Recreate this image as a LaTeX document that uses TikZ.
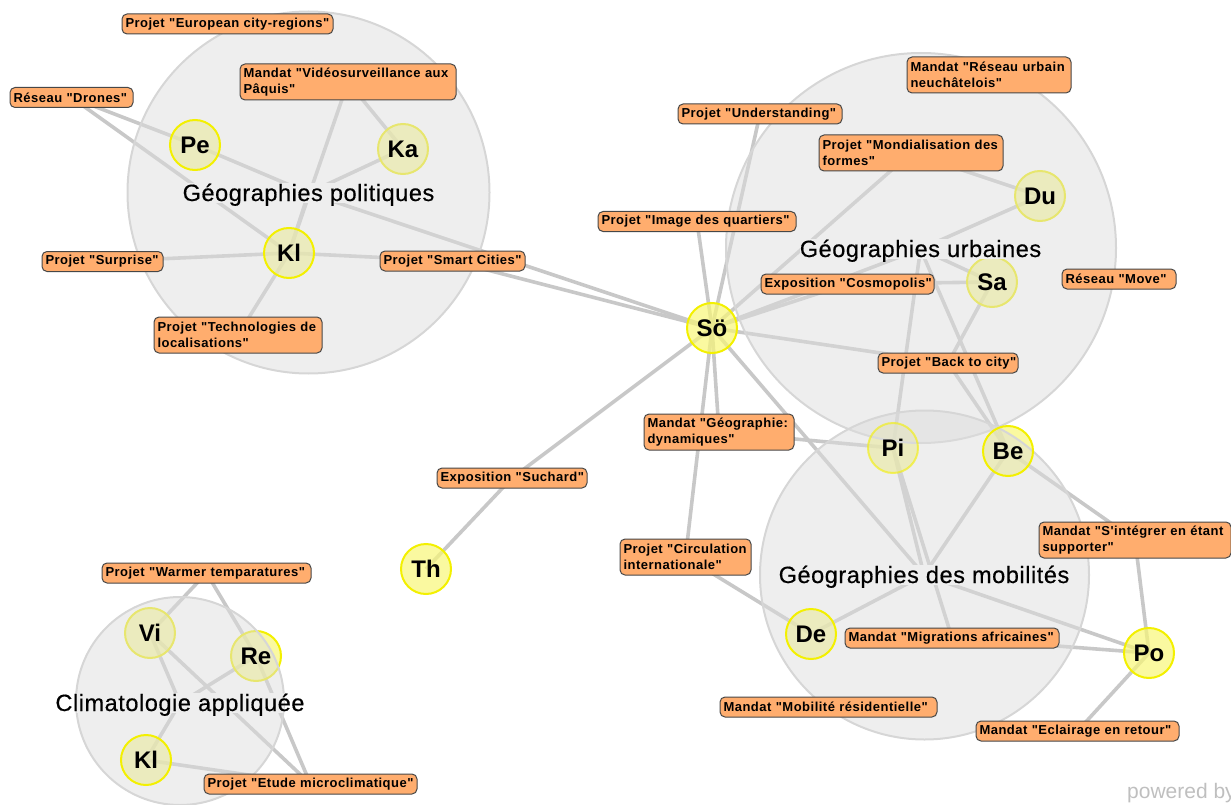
\documentclass[tikz,border=0pt]{standalone}
\usepackage{fontspec}
\setmainfont{Liberation Sans}
\newfontfamily\labfont[LetterSpace=3.8]{Liberation Sans Bold}
\newfontfamily\perfont{Liberation Sans Bold}
\newfontfamily\hubfont[LetterSpace=2.4,FakeBold=0.5]{Liberation Sans}
\pgfdeclarelayer{low}\pgfdeclarelayer{high}\pgfdeclarelayer{edges}\pgfdeclarelayer{hulls}
\pgfsetlayers{edges,low,hulls,high,main}
\definecolor{edgec}{HTML}{C8C8C8}
\definecolor{orangec}{HTML}{FFAD6E}
\definecolor{yelc}{HTML}{F8F677}
\definecolor{yelb}{HTML}{F3F000}
\definecolor{hullc}{HTML}{EEEEEE}
\definecolor{hullf}{HTML}{DDDDDD}
\definecolor{hullb}{HTML}{D6D6D6}
\tikzset{
  lab/.style n args={2}{draw=black!72,line width=1pt,fill=orangec,rounded corners=5pt,minimum width=#1pt,minimum height=#2pt,text width=#1pt-7pt,inner xsep=3.5pt,inner ysep=0pt,align=left,font=\labfont\fontsize{13}{16.5}\selectfont,text=black},
  person/.style={inner sep=0pt,minimum size=50pt,circle,font=\perfont\fontsize{24}{24}\selectfont,text=black},
  discfill/.style={fill=yelc,fill opacity=0.7},
  discline/.style={draw=yelb,draw opacity=#1,line width=2pt},
  hull/.style={circle,inner sep=0pt,draw=hullb,line width=2pt,fill=hullf,fill opacity=0.5,minimum size=#1pt},
  hublabel/.style={inner sep=0pt,text height=14pt,text depth=6pt,font=\hubfont\fontsize{23.5}{24}\selectfont,text=black},
  link/.style={draw=edgec,line width=3.6pt},
  x=1pt,y=-1pt
}
\newcommand{\hl}[1]{\raisebox{-4pt}[0pt][0pt]{#1}}
\newcommand{\ml}[2]{\raisebox{-1pt}{\mbox{#1}}\\\raisebox{-1pt}{\mbox{#2}}}
\newcommand{\sml}[1]{\raisebox{-2pt}{\mbox{#1}}}
\newcommand{\conn}[2]{\begin{pgfonlayer}{edges}\foreach \b in {#2}{\draw[link] (#1.center) -- (\b.center);}\end{pgfonlayer}}
\begin{document}
\begin{tikzpicture}
\useasboundingbox (0,0) rectangle (1231,805);
\clip (0,0) rectangle (1231,805);
% persons
\foreach \n/\t/\px/\py/\lay/\op in {pe/Pe/195/145/high/1,ka/Ka/403/149/low/1,kl/Kl/289/253/high/1,so/Sö/712/328/high/1,du/Du/1040/196/low/1,sa/Sa/992/282/low/1,pi/Pi/893/448/high/0.6,be/Be/1008/451/high/1,de/De/811/634/high/1,po/Po/1149/653/high/1,th/Th/426/569/high/1,vi/Vi/150/633/low/1,re/Re/256/656/low/1,klb/Kl/146/760/high/1}{
  \node[person] (\n) at (\px,\py) {\t};
  \begin{pgfonlayer}{low}\path[discfill] (\px,\py) circle (25);\end{pgfonlayer}
  \begin{pgfonlayer}{\lay}\path[discline=\op] (\px,\py) circle (25);\end{pgfonlayer}
}
% hull labels
\node[hublabel] (hpol) at (308.5,193) {\hl{Géographies politiques}};
\node[hublabel] (hurb) at (920.5,249) {\hl{Géographies urbaines}};
\node[hublabel] (hmob) at (924,575) {\hl{Géographies des mobilités}};
\node[hublabel] (hcli) at (180,703) {\hl{Climatologie appliquée}};
% hulls
\begin{pgfonlayer}{hulls}
\foreach \n/\h/\cx/\cy/\d in {gpol/hpol/308.5/192.5/362,gurb/hurb/921/248/390,gmob/hmob/924.5/575/329,gcli/hcli/180/701/208}{
  \node[hull=\d] (\n) at (\cx,\cy) {};
  \begin{scope}
    \clip (\cx,\cy) circle ({\d/2});
    \fill[hullc] (\h.south west) rectangle (\h.north east);
  \end{scope}
}
\end{pgfonlayer}
% labels
\node[lab={211}{20}] (european) at (227.5,24) {\sml{Projet "European city-regions"}};
\node[lab={216}{36}] (video) at (348,82) {\ml{Mandat "Vidéosurveillance aux}{Pâquis"}};
\node[lab={123}{20}] (drones) at (71.5,97.5) {\sml{Réseau "Drones"}};
\node[lab={121}{20}] (surprise) at (102.5,261.5) {\sml{Projet "Surprise"}};
\node[lab={145}{20}] (smart) at (452.5,261) {\sml{Projet "Smart Cities"}};
\node[lab={168}{36}] (tech) at (238,335) {\ml{Projet "Technologies de}{localisations"}};
\node[lab={164}{20}] (under) at (760,114) {\sml{Projet "Understanding"}};
\node[lab={164}{36}] (runeu) at (989,75) {\ml{Mandat "Réseau urbain}{neuchâtelois"}};
\node[lab={184}{36}] (mondial) at (911,153) {\ml{Projet "Mondialisation des}{formes"}};
\node[lab={198}{20}] (image) at (697,221.5) {\sml{Projet "Image des quartiers"}};
\node[lab={173}{20}] (cosmo) at (847.5,284) {\sml{Exposition "Cosmopolis"}};
\node[lab={114}{20}] (move) at (1119,279) {\sml{Réseau "Move"}};
\node[lab={140}{20}] (back) at (948,363) {\sml{Projet "Back to city"}};
\node[lab={150}{36}] (geodyn) at (719,432) {\ml{Mandat "Géographie:}{dynamiques"}};
\node[lab={150}{20}] (suchard) at (512,478) {\sml{Exposition "Suchard"}};
\node[lab={131}{36}] (circ) at (685.5,557) {\ml{Projet "Circulation}{internationale"}};
\node[lab={192}{36}] (integ) at (1135,540) {\ml{Mandat "S'intégrer en étant}{supporter"}};
\node[lab={214}{20}] (migr) at (952,638) {\sml{Mandat "Migrations africaines"}};
\node[lab={217}{20}] (mobres) at (828.5,707) {\sml{Mandat "Mobilité résidentielle"}};
\node[lab={203}{20}] (eclair) at (1077.5,731) {\sml{Mandat "Eclairage en retour"}};
\node[lab={209}{20}] (warmer) at (206.5,573) {\sml{Projet "Warmer temparatures"}};
\node[lab={213}{20}] (etude) at (310.5,784) {\sml{Projet "Etude microclimatique"}};
\node[anchor=west,inner sep=0pt,text=black!25,font=\fontsize{21}{21}\selectfont] (powered) at (1127,793) {powered by};
% connectors
\conn{drones}{pe,kl}
\conn{pe}{hpol}
\conn{ka}{hpol,video}
\conn{kl}{hpol,video,surprise,smart,tech}
\conn{so}{hpol,smart,under,image,mondial,cosmo,hurb,back,geodyn,circ,suchard,hmob}
\conn{th}{suchard}
\conn{du}{mondial,hurb}
\conn{sa}{cosmo,hurb,back}
\conn{pi}{hurb,hmob,geodyn,migr}
\conn{be}{hurb,hmob,back,integ}
\conn{de}{circ,hmob}
\conn{po}{hmob,integ,migr,eclair}
\conn{vi}{warmer,hcli,etude}
\conn{re}{warmer,hcli,etude}
\conn{klb}{hcli,etude}
\end{tikzpicture}
\end{document}
